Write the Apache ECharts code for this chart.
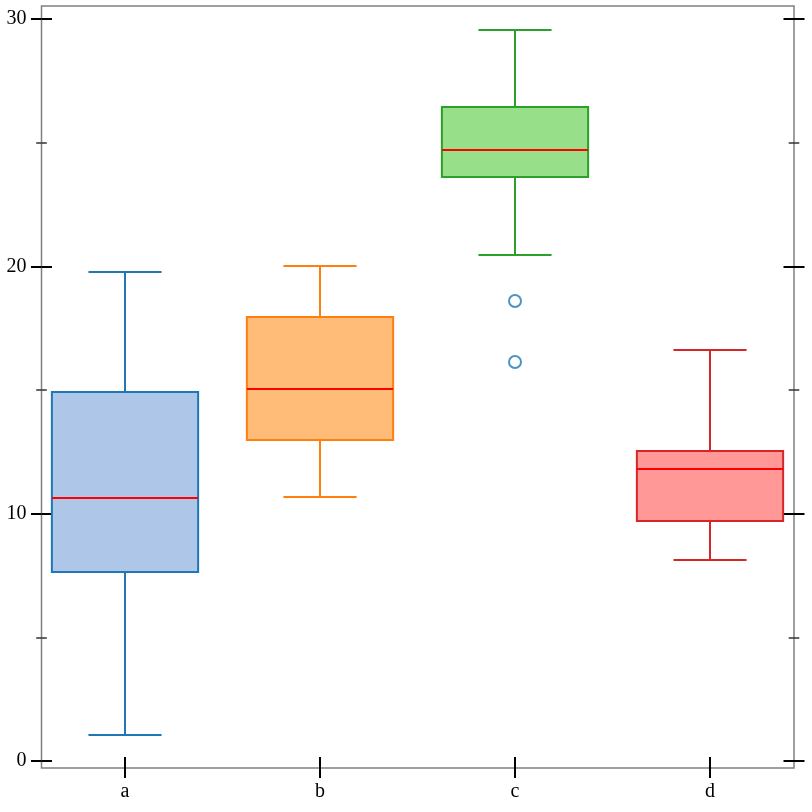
<!DOCTYPE html>
<html>
<head>
<meta charset="utf-8">
<script src="https://cdn.jsdelivr.net/npm/echarts@6/dist/echarts.min.js"></script>
<style>
  html, body { margin: 0; padding: 0; background: #fff; }
  #chart { width: 812px; height: 812px; }
</style>
</head>
<body>
<div id="chart"></div>
<script>
// box data
var categories = ['a', 'b', 'c', 'd'];
var mins    = [1.05, 10.67, 20.46, 8.13];
var q1s     = [7.64, 12.98, 23.61, 9.70];
var medians = [10.63, 15.04, 24.70, 11.81];
var q3s     = [14.92, 17.95, 26.44, 12.53];
var maxs    = [19.77, 20.01, 29.56, 16.62];
var outliers = [['c', 18.60], ['c', 16.13]];
var yTicks = [0, 10, 20, 30];

var fills = ['#aec7e8', '#ffbb78', '#98df8a', '#ff9896'];
var strokes = ['#1f77b4', '#ff7f0e', '#2ca02c', '#d62728'];

var boxData = categories.map(function (c, i) {
    return [i, mins[i], q1s[i], medians[i], q3s[i], maxs[i]];
});

var font = 'Liberation Serif';

var chart = echarts.init(document.getElementById('chart'));

function tickAxis(pos, inside, withLabel) {
    return {
        type: 'value', gridIndex: 1, position: pos,
        min: yTicks[0], max: yTicks[yTicks.length - 1], interval: 10,
        axisLine: { show: false },
        splitLine: { show: false },
        axisTick: { show: true, inside: inside, length: 10.5, lineStyle: { color: '#000', width: 2 } },
        minorTick: { show: true, splitNumber: 2, length: 5.3, lineStyle: { color: '#333', width: 1.5 } },
        axisLabel: { show: withLabel, margin: 15, color: '#000', fontFamily: font, fontSize: 20 }
    };
}

function catAxis(gridIndex, show, inside, withLabel) {
    return {
        type: 'category', gridIndex: gridIndex, data: categories, position: 'bottom', show: show,
        axisLine: { show: false },
        splitLine: { show: false },
        axisTick: { show: true, inside: inside, alignWithLabel: true, interval: 0,
            length: inside ? 11 : 10, lineStyle: { color: '#000', width: 2 } },
        axisLabel: { show: withLabel, interval: 0, margin: 14, color: '#000', fontFamily: font, fontSize: 20 }
    };
}

var option = {
    animation: false,
    backgroundColor: '#fff',
    grid: [
        { left: 41.5, top: 6, width: 752.5, height: 762, show: true, borderColor: '#808080', borderWidth: 1.5, backgroundColor: 'transparent' },
        { left: 41.5, top: 19, width: 752.5, height: 742 },
        { left: 27.5, top: 19, width: 780, height: 742 },
        { left: 27.5, top: 6, width: 780, height: 762 }
    ],
    xAxis: [
        { type: 'value', gridIndex: 0, show: false },
        { type: 'value', gridIndex: 1, show: false },
        catAxis(2, false, true, false),
        catAxis(3, true, true, true),
        catAxis(3, true, false, false)
    ],
    yAxis: [
        { type: 'value', gridIndex: 0, show: false },
        tickAxis('left', true, false),
        tickAxis('left', false, true),
        tickAxis('right', true, false),
        tickAxis('right', false, false),
        { type: 'value', gridIndex: 2, show: false, min: 0, max: 30 },
        { type: 'value', gridIndex: 3, show: false }
    ],
    series: [
        {
            type: 'custom',
            xAxisIndex: 2,
            yAxisIndex: 5,
            data: boxData,
            clip: false,
            renderItem: function (params, api) {
                var i = api.value(0);
                var band = api.size([1, 0])[0];
                var half = band * 0.75 / 2;
                var cap = half / 2;
                var pMin = api.coord([i, api.value(1)]);
                var pQ1 = api.coord([i, api.value(2)]);
                var pMed = api.coord([i, api.value(3)]);
                var pQ3 = api.coord([i, api.value(4)]);
                var pMax = api.coord([i, api.value(5)]);
                var x = pMin[0];
                var line = { stroke: strokes[i], lineWidth: 2 };
                return {
                    type: 'group',
                    children: [
                        { type: 'line', shape: { x1: x, y1: pMax[1], x2: x, y2: pQ3[1] }, style: line },
                        { type: 'line', shape: { x1: x, y1: pQ1[1], x2: x, y2: pMin[1] }, style: line },
                        { type: 'line', shape: { x1: x - cap, y1: pMax[1], x2: x + cap, y2: pMax[1] }, style: line },
                        { type: 'line', shape: { x1: x - cap, y1: pMin[1], x2: x + cap, y2: pMin[1] }, style: line },
                        { type: 'rect', shape: { x: x - half, y: pQ3[1], width: half * 2, height: pQ1[1] - pQ3[1] },
                          style: { fill: fills[i], stroke: strokes[i], lineWidth: 2 } },
                        { type: 'line', shape: { x1: x - half, y1: pMed[1], x2: x + half, y2: pMed[1] },
                          style: { stroke: '#ff0000', lineWidth: 2 } }
                    ]
                };
            }
        },
        {
            type: 'scatter',
            xAxisIndex: 2,
            yAxisIndex: 5,
            data: outliers,
            symbol: 'emptyCircle',
            symbolSize: 12,
            itemStyle: { color: '#1f77b4', borderWidth: 2 }
        }
    ]
};

chart.setOption(option);
</script>
</body>
</html>
